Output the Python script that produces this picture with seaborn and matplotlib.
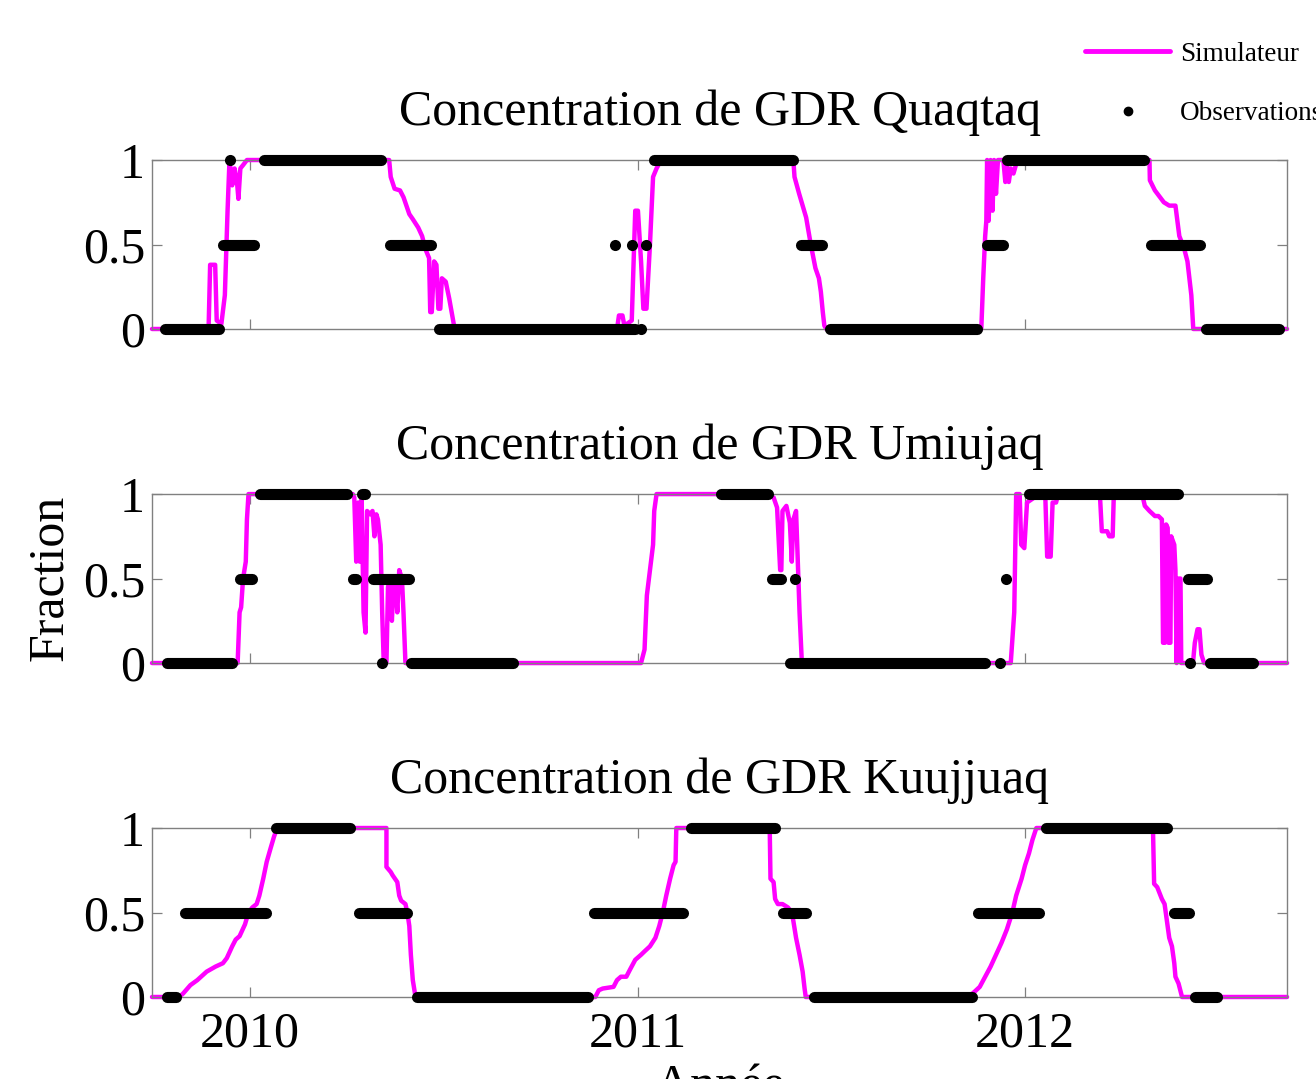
import numpy as np
import pandas as pd
import matplotlib
matplotlib.use("Agg")
import matplotlib.pyplot as plt
import seaborn as sns
from matplotlib.lines import Line2D

# ---------------------------------------------------------------------------
# Ice fraction: simulator output (time in decimal years, fraction 0..1)
# ---------------------------------------------------------------------------
QUAQTAQ_SIM = [
    (2009.747, 0.0), (2009.893, 0.0), (2009.897, 0.38), (2009.910, 0.38),
    (2009.914, 0.05), (2009.926, 0.03), (2009.935, 0.2), (2009.942, 0.7),
    (2009.947, 1.0), (2009.954, 0.85), (2009.960, 0.95), (2009.966, 0.88),
    (2009.970, 0.77), (2009.975, 0.95), (2009.982, 0.97), (2009.992, 1.0),
    (2010.359, 1.0), (2010.363, 0.9), (2010.373, 0.83), (2010.387, 0.82),
    (2010.396, 0.78), (2010.411, 0.68), (2010.420, 0.65), (2010.434, 0.6),
    (2010.444, 0.55), (2010.453, 0.47), (2010.462, 0.42), (2010.465, 0.1),
    (2010.469, 0.1), (2010.475, 0.4), (2010.481, 0.38), (2010.486, 0.12),
    (2010.491, 0.12), (2010.495, 0.3), (2010.505, 0.28), (2010.514, 0.18),
    (2010.528, 0.0), (2010.947, 0.0), (2010.952, 0.08), (2010.961, 0.08),
    (2010.966, 0.02), (2010.985, 0.05), (2010.994, 0.7), (2011.001, 0.7),
    (2011.009, 0.4), (2011.015, 0.12), (2011.023, 0.12), (2011.032, 0.5),
    (2011.040, 0.9), (2011.049, 0.95), (2011.056, 0.98), (2011.060, 1.0),
    (2011.402, 1.0), (2011.405, 0.9), (2011.417, 0.8), (2011.435, 0.66),
    (2011.447, 0.5), (2011.459, 0.36), (2011.468, 0.3), (2011.473, 0.22),
    (2011.478, 0.1), (2011.482, 0.02), (2011.487, 0.0), (2011.887, 0.0),
    (2011.892, 0.3), (2011.897, 0.55), (2011.900, 0.64), (2011.902, 1.0),
    (2011.906, 0.64), (2011.911, 1.0), (2011.916, 0.7), (2011.920, 1.0),
    (2011.925, 0.8), (2011.930, 1.0), (2011.944, 1.0), (2011.949, 0.87),
    (2011.953, 0.97), (2011.958, 0.87), (2011.963, 0.95), (2011.970, 0.92),
    (2011.980, 1.0), (2012.321, 1.0), (2012.322, 0.88), (2012.335, 0.82),
    (2012.358, 0.75), (2012.372, 0.73), (2012.388, 0.73), (2012.398, 0.55),
    (2012.410, 0.48), (2012.419, 0.4), (2012.424, 0.3), (2012.429, 0.2),
    (2012.434, 0.0), (2012.676, 0.0),
]

UMIUJAQ_SIM = [
    (2009.747, 0.0), (2009.968, 0.0), (2009.973, 0.3), (2009.977, 0.33),
    (2009.982, 0.5), (2009.989, 0.6), (2009.992, 0.85), (2009.996, 1.0),
    (2010.265, 1.0), (2010.269, 0.98), (2010.274, 0.6), (2010.279, 0.95),
    (2010.283, 0.6), (2010.288, 0.97), (2010.293, 0.3), (2010.298, 0.18),
    (2010.302, 0.9), (2010.310, 0.88), (2010.316, 0.9), (2010.321, 0.75),
    (2010.326, 0.88), (2010.330, 0.85), (2010.337, 0.7), (2010.341, 0.3),
    (2010.345, 0.0), (2010.352, 0.0), (2010.356, 0.45), (2010.362, 0.5),
    (2010.366, 0.25), (2010.371, 0.5), (2010.376, 0.45), (2010.380, 0.3),
    (2010.385, 0.55), (2010.392, 0.5), (2010.396, 0.3), (2010.401, 0.0),
    (2011.009, 0.0), (2011.018, 0.08), (2011.024, 0.4), (2011.032, 0.55),
    (2011.040, 0.7), (2011.043, 0.9), (2011.049, 1.0), (2011.337, 1.0),
    (2011.351, 0.98), (2011.360, 0.92), (2011.368, 0.55), (2011.371, 0.55),
    (2011.374, 0.9), (2011.384, 0.93), (2011.393, 0.83), (2011.398, 0.6),
    (2011.402, 0.85), (2011.409, 0.9), (2011.415, 0.5), (2011.418, 0.3),
    (2011.424, 0.0), (2011.963, 0.0), (2011.972, 0.3), (2011.977, 1.0),
    (2011.986, 1.0), (2011.990, 0.7), (2011.998, 0.68), (2012.005, 0.95),
    (2012.024, 0.98), (2012.029, 1.0), (2012.052, 1.0), (2012.057, 0.63),
    (2012.066, 0.63), (2012.071, 0.95), (2012.080, 0.95), (2012.085, 1.0),
    (2012.193, 1.0), (2012.198, 0.78), (2012.212, 0.78), (2012.217, 0.75),
    (2012.226, 0.75), (2012.229, 1.0), (2012.302, 1.0), (2012.309, 0.93),
    (2012.321, 0.9), (2012.335, 0.87), (2012.344, 0.87), (2012.353, 0.85),
    (2012.356, 0.12), (2012.361, 0.12), (2012.364, 0.82), (2012.368, 0.8),
    (2012.370, 0.12), (2012.375, 0.12), (2012.377, 0.75), (2012.385, 0.7),
    (2012.388, 0.55), (2012.391, 0.0), (2012.396, 0.5), (2012.401, 0.5),
    (2012.403, 0.0), (2012.424, 0.0), (2012.434, 0.02), (2012.438, 0.12),
    (2012.445, 0.2), (2012.450, 0.2), (2012.455, 0.05), (2012.462, 0.0),
    (2012.676, 0.0),
]

KUUJJUAQ_SIM = [
    (2009.747, 0.0), (2009.817, 0.0), (2009.827, 0.02), (2009.846, 0.07),
    (2009.864, 0.1), (2009.888, 0.15), (2009.911, 0.18), (2009.930, 0.2),
    (2009.940, 0.23), (2009.954, 0.3), (2009.963, 0.34), (2009.973, 0.36),
    (2009.987, 0.43), (2009.996, 0.5), (2010.006, 0.53), (2010.017, 0.55),
    (2010.024, 0.6), (2010.034, 0.7), (2010.043, 0.8), (2010.053, 0.88),
    (2010.062, 0.95), (2010.070, 1.0), (2010.352, 1.0), (2010.352, 0.77),
    (2010.363, 0.74), (2010.368, 0.72), (2010.380, 0.68), (2010.385, 0.6),
    (2010.390, 0.57), (2010.401, 0.55), (2010.406, 0.5), (2010.411, 0.42),
    (2010.415, 0.25), (2010.420, 0.1), (2010.427, 0.0), (2010.891, 0.0),
    (2010.900, 0.04), (2010.910, 0.05), (2010.938, 0.06), (2010.947, 0.1),
    (2010.957, 0.12), (2010.971, 0.12), (2010.980, 0.16), (2010.994, 0.22),
    (2011.009, 0.25), (2011.018, 0.27), (2011.032, 0.3), (2011.046, 0.35),
    (2011.056, 0.42), (2011.065, 0.5), (2011.074, 0.6), (2011.084, 0.7),
    (2011.093, 0.78), (2011.098, 0.8), (2011.100, 1.0), (2011.341, 1.0),
    (2011.343, 0.7), (2011.351, 0.68), (2011.355, 0.58), (2011.362, 0.55),
    (2011.374, 0.55), (2011.388, 0.53), (2011.398, 0.5), (2011.402, 0.45),
    (2011.409, 0.35), (2011.418, 0.25), (2011.426, 0.15), (2011.431, 0.05),
    (2011.434, 0.0), (2011.854, 0.0), (2011.869, 0.03), (2011.883, 0.06),
    (2011.897, 0.12), (2011.911, 0.18), (2011.925, 0.25), (2011.939, 0.32),
    (2011.953, 0.4), (2011.967, 0.5), (2011.977, 0.6), (2011.991, 0.7),
    (2012.000, 0.78), (2012.010, 0.85), (2012.019, 0.93), (2012.029, 1.0),
    (2012.330, 1.0), (2012.333, 0.67), (2012.341, 0.65), (2012.353, 0.58),
    (2012.360, 0.55), (2012.366, 0.45), (2012.372, 0.35), (2012.379, 0.3),
    (2012.385, 0.2), (2012.388, 0.12), (2012.396, 0.08), (2012.405, 0.0),
    (2012.676, 0.0),
]

# ---------------------------------------------------------------------------
# Observed ice fraction: runs of consecutive identical observations
# (first date, last date, fraction) and isolated observations (date, fraction)
# ---------------------------------------------------------------------------
QUAQTAQ_RUNS = [
    (2009.781, 2009.920, 0.0), (2009.931, 2010.009, 0.5),
    (2010.035, 2010.339, 1.0), (2010.360, 2010.466, 0.5),
    (2010.487, 2010.993, 0.0), (2011.042, 2011.402, 1.0),
    (2011.422, 2011.477, 0.5), (2011.497, 2011.877, 0.0),
    (2011.902, 2011.943, 0.5), (2011.954, 2012.306, 1.0),
    (2012.326, 2012.452, 0.5), (2012.467, 2012.654, 0.0),
]
QUAQTAQ_DOTS = [
    (2009.949, 1.0), (2010.942, 0.5), (2010.985, 0.5),
    (2011.022, 0.5), (2011.008, 0.0),
]

UMIUJAQ_RUNS = [
    (2009.785, 2009.953, 0.0), (2009.974, 2010.005, 0.5),
    (2010.025, 2010.250, 1.0), (2010.289, 2010.297, 1.0),
    (2010.265, 2010.273, 0.5), (2010.317, 2010.410, 0.5),
    (2010.416, 2010.678, 0.0), (2011.215, 2011.336, 1.0),
    (2011.347, 2011.369, 0.5), (2011.394, 2011.896, 0.0),
    (2012.011, 2012.395, 1.0), (2012.420, 2012.470, 0.5),
    (2012.477, 2012.588, 0.0),
]
UMIUJAQ_DOTS = [
    (2010.340, 0.0), (2011.405, 0.5), (2011.934, 0.0),
    (2011.950, 0.5), (2012.426, 0.0),
]

KUUJJUAQ_RUNS = [
    (2009.785, 2009.810, 0.0), (2009.832, 2010.042, 0.5),
    (2010.068, 2010.259, 1.0), (2010.280, 2010.405, 0.5),
    (2010.430, 2010.871, 0.0), (2010.887, 2011.116, 0.5),
    (2011.137, 2011.354, 1.0), (2011.375, 2011.435, 0.5),
    (2011.455, 2011.863, 0.0), (2011.879, 2012.037, 0.5),
    (2012.053, 2012.367, 1.0), (2012.383, 2012.423, 0.5),
    (2012.439, 2012.494, 0.0),
]
KUUJJUAQ_DOTS = []

STATIONS = ["Quaqtaq", "Umiujaq", "Kuujjuaq"]
SIMULATIONS = [QUAQTAQ_SIM, UMIUJAQ_SIM, KUUJJUAQ_SIM]
OBS_RUNS = [QUAQTAQ_RUNS, UMIUJAQ_RUNS, KUUJJUAQ_RUNS]
OBS_DOTS = [QUAQTAQ_DOTS, UMIUJAQ_DOTS, KUUJJUAQ_DOTS]

YEAR_TICKS = [2010, 2011, 2012]
FRACTION_TICKS = [0, 0.5, 1]
FRACTION_LABELS = ["0", "0.5", "1"]

MAGENTA = "#ff00ff"
FRAME = "#808080"

sns.set_theme(style="white")
plt.rcParams["font.family"] = ["Liberation Serif", "DejaVu Serif"]

fig = plt.figure(figsize=(13.16, 10.79), dpi=100)

AX_LEFT, AX_WIDTH, AX_HEIGHT = 0.1155, 0.8625, 0.1566
AX_BOTTOMS = [0.6951, 0.3855, 0.0760]

for i, (name, sim, runs, dots) in enumerate(zip(STATIONS, SIMULATIONS, OBS_RUNS, OBS_DOTS)):
    ax = fig.add_axes([AX_LEFT, AX_BOTTOMS[i], AX_WIDTH, AX_HEIGHT])

    sim_df = pd.DataFrame(sim, columns=["t", "v"])
    sns.lineplot(data=sim_df, x="t", y="v", ax=ax, color=MAGENTA, lw=3.2,
                 estimator=None, sort=False, zorder=2, clip_on=False)

    run_rows = []
    for k, (t0, t1, lev) in enumerate(runs):
        run_rows.append((k, t0, lev))
        run_rows.append((k, t1, lev))
    run_df = pd.DataFrame(run_rows, columns=["run", "t", "v"])
    sns.lineplot(data=run_df, x="t", y="v", units="run", ax=ax, color="black",
                 lw=8, solid_capstyle="round", estimator=None, sort=False,
                 zorder=3, clip_on=False)

    if dots:
        dot_df = pd.DataFrame(dots, columns=["t", "v"])
        sns.scatterplot(data=dot_df, x="t", y="v", ax=ax, color="black", s=64,
                        marker="o", linewidth=0, zorder=3, clip_on=False)

    ax.set_xlim(2009.747, 2012.676)
    ax.set_ylim(0, 1)
    ax.set_xticks(YEAR_TICKS)
    ax.set_yticks(FRACTION_TICKS)
    ax.set_yticklabels(FRACTION_LABELS)
    ax.set_xlabel("")
    ax.set_ylabel("")
    ax.tick_params(direction="in", length=7, width=0.9, color=FRAME,
                   top=True, right=True, bottom=True, left=True,
                   labelsize=36, labelcolor="black")
    ax.tick_params(axis="y", pad=5)
    ax.tick_params(axis="x", pad=10, labelbottom=(i == 2))
    for sp in ax.spines.values():
        sp.set_color(FRAME)
        sp.set_linewidth(1.0)
    ax.set_title(f"Concentration de GDR {name}", fontsize=36, pad=25,
                 color="black")
    if i == 2:
        ax.set_xlabel("Année", fontsize=36, color="black", labelpad=4.5)

fig.text(0.038, 0.4643, "Fraction", rotation=90, fontsize=36,
         ha="center", va="center", color="black")

handles = [
    Line2D([], [], color=MAGENTA, lw=3.5),
    Line2D([], [], color="black", marker="o", ls="none", markersize=6),
]
fig.legend(handles, ["Simulateur", "Observations"], loc="upper left",
           bbox_to_anchor=(1085 / 1316, 0.9614), frameon=False, fontsize=19.5,
           handlelength=3.15, handletextpad=0.37, labelspacing=1.27,
           borderpad=0, borderaxespad=0, numpoints=1, labelcolor="black")

fig.savefig("out.png", dpi=100)
